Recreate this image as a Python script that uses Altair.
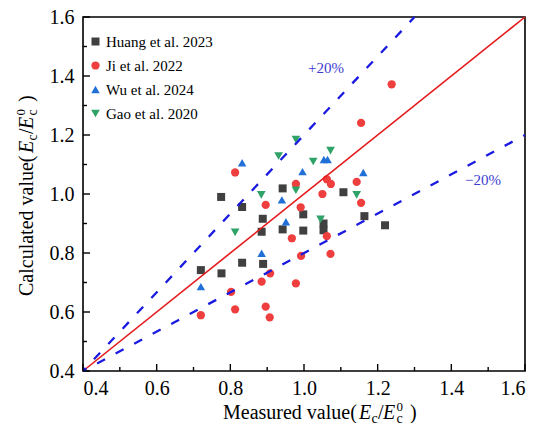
import altair as alt
import pandas as pd

# ---------------- data ----------------
series = ["Huang et al. 2023", "Ji et al. 2022", "Wu et al. 2024", "Gao et al. 2020"]

huang_x = [0.72, 0.776, 0.775, 0.832, 0.832, 0.888, 0.885, 0.889, 0.942, 0.942,
           0.998, 0.998, 1.053, 1.053, 1.107, 1.164, 1.22]
huang_y = [0.742, 0.731, 0.99, 0.956, 0.767, 0.916, 0.872, 0.763, 1.019, 0.88,
           0.931, 0.876, 0.90, 0.877, 1.006, 0.925, 0.894]

ji_x = [0.72, 0.802, 0.813, 0.813, 0.885, 0.896, 0.896, 0.907, 0.908, 0.967, 0.978,
        0.978, 0.991, 0.992, 1.05, 1.062, 1.073, 1.062, 1.072, 1.143, 1.155, 1.155, 1.238]
ji_y = [0.589, 0.668, 0.609, 1.073, 0.703, 0.963, 0.618, 0.582, 0.731, 0.85, 1.034,
        0.697, 0.955, 0.79, 1.0, 1.05, 1.034, 0.857, 0.797, 1.041, 0.97, 1.241, 1.372]

wu_x = [0.72, 0.832, 0.885, 0.94, 0.951, 0.996, 1.054, 1.064, 1.161]
wu_y = [0.686, 1.106, 0.799, 0.98, 0.906, 1.076, 1.117, 1.117, 1.073]

gao_x = [0.813, 0.884, 0.931, 0.978, 0.978, 1.025, 1.072, 1.045, 1.143]
gao_y = [0.87, 0.997, 1.129, 1.185, 1.013, 1.11, 1.147, 0.914, 0.997]

equal_x = [0.4, 1.6]
equal_y = [0.4, 1.6]
upper_x = [0.4, 1.3]
upper_y = [0.4, 1.6]
lower_x = [0.4, 1.6]
lower_y = [0.4, 1.2]

major_ticks = [0.4, 0.6, 0.8, 1.0, 1.2, 1.4, 1.6]
minor_ticks = [0.5, 0.7, 0.9, 1.1, 1.3, 1.5]

# ---------------- styling ----------------
W, H = 442, 354
FONT = "Liberation Serif"
colors = ["#404040", "#ef3e3e", "#2170d8", "#2fa267"]
shapes = ["square", "circle", "triangle-up", "triangle-down"]
sizes = [64, 76, 90, 90]

xs = alt.Scale(domain=[0.4, 1.6], nice=False, zero=False)
ys = alt.Scale(domain=[0.4, 1.6], nice=False, zero=False)

frames = []
for name, xv, yv in zip(series, [huang_x, ji_x, wu_x, gao_x], [huang_y, ji_y, wu_y, gao_y]):
    frames.append(pd.DataFrame({"measured": xv, "calculated": yv, "source": name}))
pts = pd.concat(frames, ignore_index=True)

leg = alt.Legend(title=None, orient="none", legendX=5, legendY=17,
                 labelFont=FONT, labelFontSize=15, labelColor="black",
                 symbolSize=60, symbolStrokeWidth=0, symbolOpacity=1,
                 rowPadding=8, padding=0, labelOffset=3)

points = alt.Chart(pts).mark_point(filled=True, opacity=1, strokeWidth=0).encode(
    x=alt.X("measured:Q", scale=xs,
            axis=alt.Axis(values=major_ticks, format=".1f", title=None, ticks=False,
                          domain=False, grid=False, labelPadding=7)),
    y=alt.Y("calculated:Q", scale=ys,
            axis=alt.Axis(values=major_ticks, format=".1f", title=None, ticks=False,
                          domain=False, grid=False, labelPadding=9)),
    color=alt.Color("source:N", scale=alt.Scale(domain=series, range=colors), legend=leg),
    shape=alt.Shape("source:N", scale=alt.Scale(domain=series, range=shapes), legend=leg),
    size=alt.Size("source:O", scale=alt.Scale(domain=series, range=sizes), legend=None),
)

def line_layer(xv, yv, **kw):
    df = pd.DataFrame({"measured": xv, "calculated": yv})
    return alt.Chart(df).mark_line(**kw).encode(
        x=alt.X("measured:Q", scale=xs), y=alt.Y("calculated:Q", scale=ys))

equal_line = line_layer(equal_x, equal_y, color="#e41a1c", strokeWidth=1.6)
upper_line = line_layer(upper_x, upper_y, color="#1a1ae0", strokeWidth=2.3,
                        strokeDash=[9, 12], strokeDashOffset=5)
lower_line = line_layer(lower_x, lower_y, color="#1a1ae0", strokeWidth=2.3,
                        strokeDash=[9, 12], strokeDashOffset=5)

def xticks(vals, length):
    return alt.Chart(pd.DataFrame({"measured": vals})).mark_rule(
        color="black", strokeWidth=1.4).encode(
        x=alt.X("measured:Q", scale=xs), y=alt.value(H), y2=alt.value(H - length))

def yticks(vals, length):
    return alt.Chart(pd.DataFrame({"calculated": vals})).mark_rule(
        color="black", strokeWidth=1.4).encode(
        y=alt.Y("calculated:Q", scale=ys), x=alt.value(0), x2=alt.value(length))

tick_layers = [xticks(major_ticks, 7), xticks(minor_ticks, 4),
               yticks(major_ticks, 7), yticks(minor_ticks, 4)]

# ---------------- annotations ----------------
ann_color = "#3b3bd0"
plus = alt.Chart(alt.Data(values=[{}])).mark_text(
    text="+20%", font=FONT, fontSize=15, color=ann_color, align="center", baseline="middle"
).encode(x=alt.datum(1.06), y=alt.datum(1.427))
minus = alt.Chart(alt.Data(values=[{}])).mark_text(
    text="\u221220%", font=FONT, fontSize=15, color=ann_color, align="center", baseline="middle"
).encode(x=alt.datum(1.486), y=alt.datum(1.047))

def piece(txt, x, y, size=20, italic=False, angle=0):
    kw = dict(text=txt, font=FONT, fontSize=size, color="black", align="left",
              baseline="alphabetic")
    if italic:
        kw["fontStyle"] = "italic"
    if angle:
        kw["angle"] = angle
    return alt.Chart(alt.Data(values=[{}])).mark_text(**kw).encode(
        x=alt.value(x), y=alt.value(y))

# x-axis title: Measured value(Ec/Ec0)
xb = 402
x_title = [
    piece("Measured value(", 140, xb),
    piece("E", 276, xb, italic=True),
    piece("c", 288.5, xb + 4, size=14),
    piece("/", 295, xb),
    piece("E", 300, xb, italic=True),
    piece("0", 313.5, xb - 8, size=13),
    piece("c", 313.5, xb + 4, size=14),
    piece(")", 327, xb),
]
# y-axis title (rotated, reading upward)
yb = -50
y_title = [
    piece("Calculated value(", yb, 279, angle=270),
    piece("E", yb, 136, italic=True, angle=270),
    piece("c", yb + 4, 123.5, size=14, angle=270),
    piece("/", yb, 117, angle=270),
    piece("E", yb, 112, italic=True, angle=270),
    piece("0", yb - 8, 98.5, size=13, angle=270),
    piece("c", yb + 4, 98.5, size=14, angle=270),
    piece(")", yb, 85, angle=270),
]

chart = alt.layer(
    points, equal_line, upper_line, lower_line, *tick_layers, plus, minus, *x_title, *y_title
).properties(
    width=W, height=H,
    autosize=alt.AutoSizeParams(type="none"),
    padding={"left": 75, "top": 9, "right": 17, "bottom": 52},
    background="white",
).configure_view(
    stroke="black", strokeWidth=1.6
).configure_axis(
    labelFont=FONT, labelFontSize=20, labelColor="black"
)

chart.save("out.html", embed_options={"renderer": "svg", "actions": False})
